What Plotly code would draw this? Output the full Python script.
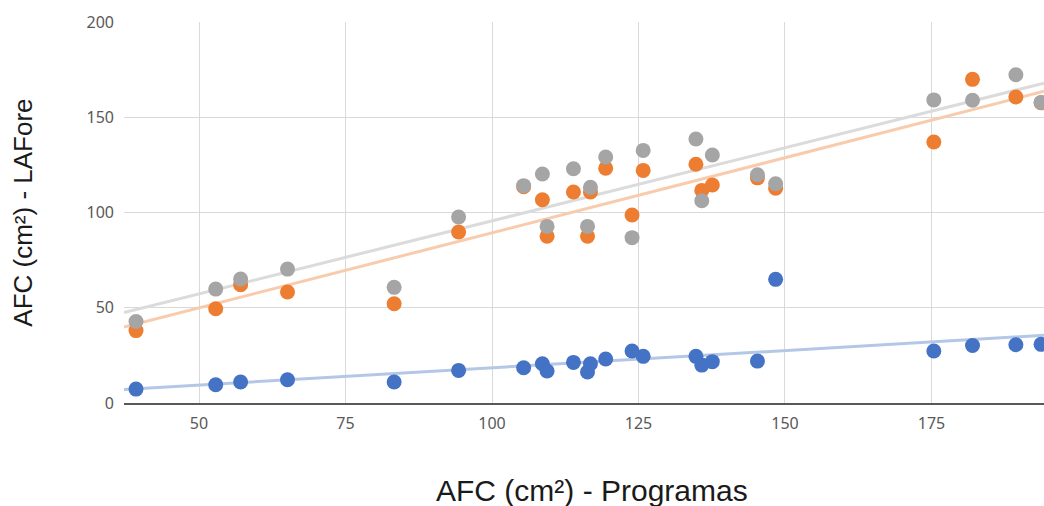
import numpy as np
import plotly.graph_objects as go

# Data
afc_programas = [39.25, 52.85, 57.1, 65.1, 83.3, 94.3, 105.4, 108.6, 109.4, 113.9, 116.8, 116.3,
                 119.4, 123.9, 125.8, 134.8, 135.8, 137.6, 145.3, 148.4, 175.4, 182.0, 189.4, 193.7]
serie_azul = [7.3, 9.6, 11.0, 12.2, 11.0, 17.1, 18.5, 20.6, 16.8, 21.3, 20.6, 16.3,
              23.1, 27.3, 24.5, 24.5, 19.9, 21.7, 22.0, 64.9, 27.3, 30.2, 30.6, 30.8]
serie_laranja = [38.0, 49.5, 62.1, 58.3, 52.1, 89.8, 113.5, 106.7, 87.5, 110.8, 110.8, 87.5,
                 123.2, 98.7, 122.1, 125.3, 111.6, 114.4, 118.2, 112.7, 137.0, 169.9, 160.6, 157.6]
serie_cinza = [42.8, 59.8, 65.1, 70.3, 60.7, 97.6, 114.1, 120.2, 92.7, 123.0, 113.2, 92.7,
               129.1, 86.8, 132.6, 138.6, 106.2, 130.2, 119.8, 115.1, 159.1, 158.9, 172.3, 157.8]

x_range = [37.2, 194.2]
y_range = [0, 200]

series = [
    ("Série 1", serie_azul, "#4472C4", "#B4C7E7"),
    ("Série 2", serie_laranja, "#ED7D31", "#F8CBAD"),
    ("Série 3", serie_cinza, "#A5A5A5", "#DBDBDB"),
]

fig = go.Figure()
x = np.array(afc_programas)
xl = np.array(x_range)
# trendlines first (below markers)
for name, ys, col, tcol in series:
    m, b = np.polyfit(x, np.array(ys), 1)
    fig.add_trace(go.Scatter(x=xl, y=m * xl + b, mode="lines",
                             line=dict(color=tcol, width=3), showlegend=False,
                             hoverinfo="skip"))
for name, ys, col, tcol in series:
    fig.add_trace(go.Scatter(x=afc_programas, y=ys, mode="markers", name=name,
                             marker=dict(color=col, size=15, line=dict(width=0)),
                             showlegend=False))

tick_font = dict(family="Noto Sans", size=16, color="#595959")
fig.update_layout(
    width=1044, height=506,
    margin=dict(l=124, r=0, t=22, b=103, autoexpand=False),
    plot_bgcolor="white", paper_bgcolor="white",
    xaxis=dict(range=x_range, tick0=0, dtick=25, showgrid=True, gridcolor="#D9D9D9",
               gridwidth=1, zeroline=False, showline=True, linecolor="#595959",
               linewidth=1.5, ticks="", tickfont=tick_font, ticklabelstandoff=5,
               automargin=False),
    yaxis=dict(range=y_range, tick0=0, dtick=50, showgrid=True, gridcolor="#D9D9D9",
               gridwidth=1, zeroline=False, showline=False, ticks="",
               tickfont=tick_font, ticklabelstandoff=9, automargin=False),
    annotations=[
        dict(text="AFC (cm²) - Programas", xref="paper", yref="paper",
             x=0.509, y=-0.229, xanchor="center", yanchor="middle", showarrow=False,
             font=dict(family="Liberation Sans", size=30, color="#1a1a1a")),
        dict(text="AFC (cm²) - LAFore", xref="paper", yref="paper",
             x=-0.110, y=0.499, xanchor="center", yanchor="middle", showarrow=False,
             textangle=-90,
             font=dict(family="Liberation Sans", size=26, color="#1a1a1a")),
    ],
)

fig.write_html("out.html", config={"displayModeBar": False},
               post_script="document.body.style.margin='0';document.body.style.overflow='hidden';")
